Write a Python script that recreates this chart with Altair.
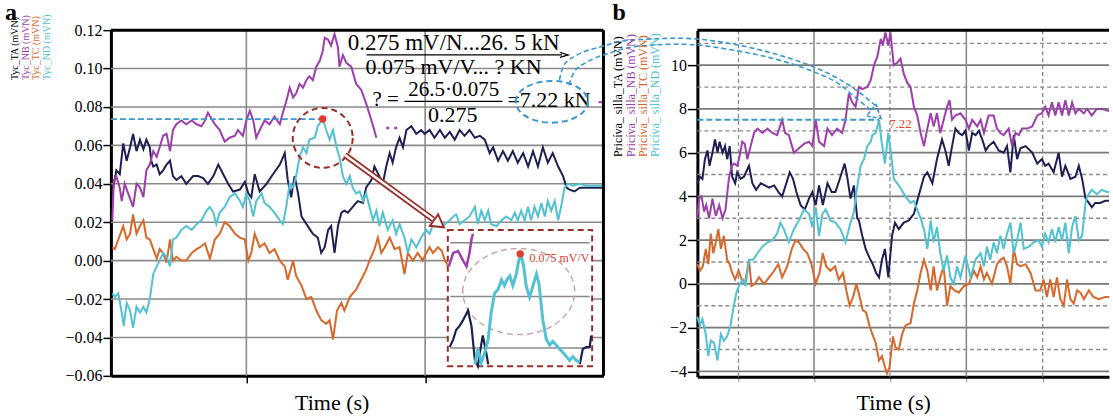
import altair as alt
import pandas as pd

FONT = "Liberation Serif"
NAVY = "#1e2052"
PURPLE = "#9d3fab"
ORANGE = "#d8672a"
CYAN = "#52c2d2"
GRID = "#8a8a8a"
DARKRED = "#9a2e2a"
RED = "#e63a2e"
BLUE = "#3a97cf"
PINK = "#c9a6ae"

# ---------------- panel a : Tyc (mV/N) ----------------
A_XTICKS = [27.5, 63.8]
A_YTICKS = [-0.06, -0.04, -0.02, 0.0, 0.02, 0.04, 0.06, 0.08, 0.10, 0.12]
A_HGRID = [-0.04, -0.02, 0.0, 0.02, 0.04, 0.06, 0.08, 0.10]

A_TA = [(0.5, 0.038), (1.1, 0.047), (1.8, 0.045), (2.5, 0.061), (3.2, 0.052), (3.9, 0.059), (4.5, 0.066),
        (5.2, 0.057), (5.9, 0.063), (6.6, 0.058), (7.2, 0.063), (7.9, 0.059), (8.2, 0.052), (8.6, 0.049),
        (9.3, 0.050), (9.9, 0.045), (10.6, 0.047), (11.3, 0.050), (12.0, 0.052), (12.6, 0.044), (13.3, 0.042),
        (14.3, 0.044), (15.3, 0.040), (16.7, 0.044), (17.7, 0.044), (18.7, 0.043), (19.7, 0.040), (20.8, 0.044),
        (21.8, 0.050), (22.8, 0.045), (23.8, 0.040), (24.8, 0.036), (26.2, 0.037), (27.2, 0.041), (27.9, 0.035),
        (28.5, 0.033), (29.2, 0.045), (30.2, 0.036), (31.6, 0.040), (32.9, 0.045), (34.3, 0.050), (35.3, 0.056),
        (35.9, 0.042), (36.6, 0.033), (37.3, 0.044), (38.0, 0.035), (38.7, 0.023), (39.7, 0.019), (41.0, 0.014),
        (42.0, 0.012), (42.7, 0.004), (43.4, 0.007), (44.1, 0.016), (44.7, 0.018), (45.4, 0.004), (46.1, 0.018),
        (46.8, 0.025), (47.4, 0.026), (48.1, 0.025), (49.1, 0.028), (50.1, 0.031), (51.2, 0.030), (51.8, 0.038),
        (52.9, 0.042), (53.5, 0.049), (54.5, 0.044), (55.2, 0.040), (55.9, 0.049), (56.6, 0.056), (57.2, 0.051),
        (57.9, 0.059), (58.6, 0.064), (59.3, 0.059), (60.0, 0.068), (61.0, 0.070), (62.0, 0.066), (63.0, 0.068),
        (63.7, 0.066), (64.7, 0.068), (65.7, 0.064), (66.8, 0.068), (67.8, 0.064), (68.8, 0.067), (69.8, 0.063),
        (70.8, 0.068), (71.8, 0.065), (72.8, 0.068), (73.9, 0.064), (74.9, 0.065), (75.9, 0.063), (76.9, 0.056),
        (77.6, 0.059), (78.6, 0.052), (79.6, 0.057), (80.6, 0.052), (81.6, 0.057), (82.6, 0.051), (83.7, 0.056),
        (84.7, 0.049), (85.7, 0.057), (86.7, 0.049), (87.7, 0.059), (88.7, 0.051), (89.7, 0.056), (90.8, 0.049),
        (91.8, 0.044), (92.5, 0.038), (93.1, 0.037), (94.1, 0.036), (95.2, 0.038), (96.5, 0.038), (98.5, 0.038),
        (100.0, 0.038)]

A_NB = [(0.3, 0.021), (0.6, 0.042), (1.1, 0.044), (1.8, 0.038), (2.2, 0.031), (2.8, 0.040), (3.5, 0.035),
        (4.5, 0.028), (5.2, 0.040), (5.9, 0.038), (6.6, 0.033), (7.2, 0.047), (7.9, 0.050), (8.6, 0.057),
        (9.3, 0.054), (9.9, 0.059), (10.6, 0.065), (11.3, 0.066), (12.0, 0.057), (12.6, 0.068), (13.3, 0.071),
        (14.3, 0.073), (15.3, 0.071), (16.4, 0.073), (17.4, 0.071), (18.4, 0.070), (19.1, 0.073), (19.7, 0.077),
        (20.4, 0.074), (21.1, 0.071), (22.1, 0.068), (23.1, 0.062), (24.1, 0.064), (25.2, 0.065), (25.8, 0.068),
        (26.8, 0.065), (27.5, 0.073), (28.2, 0.078), (28.9, 0.073), (29.5, 0.064), (30.6, 0.070), (31.2, 0.073),
        (32.2, 0.071), (33.2, 0.075), (34.3, 0.071), (34.9, 0.077), (35.6, 0.083), (36.3, 0.090), (37.0, 0.085),
        (37.6, 0.087), (38.3, 0.092), (39.0, 0.090), (39.7, 0.094), (40.3, 0.096), (41.0, 0.094), (41.7, 0.101),
        (42.4, 0.104), (43.0, 0.109), (43.4, 0.116), (44.1, 0.115), (44.7, 0.112), (45.4, 0.118), (46.1, 0.111),
        (46.4, 0.101), (47.1, 0.107), (47.8, 0.103), (48.8, 0.101), (49.8, 0.092), (50.8, 0.089), (51.8, 0.082),
        (52.9, 0.073), (53.9, 0.064)]
A_NB_DOTS = [(55.9, 0.069), (58.6, 0.069)]
A_NB_TAIL = [(99.0, 0.0825), (100.0, 0.0825)]

A_TC = [(0.3, 0.007), (0.8, 0.006), (1.5, 0.011), (2.5, 0.018), (3.2, 0.011), (3.9, 0.014), (4.5, 0.024),
        (5.2, 0.014), (5.9, 0.018), (6.6, 0.021), (7.2, 0.012), (7.9, 0.011), (8.6, 0.006), (9.3, 0.001),
        (9.9, 0.006), (10.6, 0.004), (11.3, -0.001), (12.0, 0.011), (12.6, 0.000), (13.3, 0.002), (14.3, 0.000),
        (15.3, 0.000), (16.4, 0.004), (17.4, 0.006), (18.1, 0.007), (19.1, 0.009), (20.1, 0.001), (21.1, 0.011),
        (22.1, 0.014), (23.1, 0.020), (24.1, 0.018), (25.2, 0.014), (26.2, 0.012), (27.2, 0.011), (27.9, 0.000),
        (28.5, 0.004), (29.2, 0.014), (30.2, 0.007), (31.2, 0.009), (32.2, 0.004), (33.2, 0.006), (34.3, 0.000),
        (35.3, -0.003), (35.9, -0.010), (37.0, 0.000), (37.6, -0.008), (38.7, -0.013), (39.7, -0.020),
        (40.7, -0.019), (41.7, -0.026), (42.7, -0.031), (43.7, -0.033), (44.4, -0.031), (45.1, -0.041),
        (45.9, -0.026), (46.8, -0.022), (47.4, -0.026), (48.5, -0.019), (49.8, -0.015), (50.8, -0.010),
        (51.8, -0.005), (52.5, 0.000), (53.5, 0.006), (54.2, 0.012), (54.9, 0.004), (55.6, 0.007), (56.6, 0.012),
        (57.6, 0.006), (58.6, 0.007), (59.6, -0.007), (60.3, 0.004), (61.3, 0.000), (62.3, 0.004), (63.3, 0.000),
        (64.0, 0.004), (64.7, 0.007), (65.4, 0.004), (66.4, 0.007), (67.2, 0.005), (67.8, 0.000), (68.8, -0.004)]

A_ND = [(0.3, -0.017), (0.8, -0.019), (1.5, -0.017), (2.2, -0.027), (2.6, -0.034), (3.2, -0.022), (3.9, -0.026),
        (4.5, -0.035), (5.2, -0.024), (5.9, -0.027), (6.6, -0.024), (7.2, -0.027), (7.9, -0.020), (8.6, -0.007),
        (9.3, -0.003), (9.9, 0.000), (10.6, 0.004), (11.3, 0.002), (12.0, -0.003), (12.6, 0.011), (13.3, 0.012),
        (14.3, 0.016), (15.3, 0.018), (16.4, 0.016), (17.4, 0.019), (18.4, 0.021), (19.4, 0.026), (20.1, 0.028),
        (20.8, 0.025), (21.4, 0.019), (22.1, 0.025), (23.1, 0.028), (24.1, 0.033), (25.2, 0.035), (26.2, 0.031),
        (26.8, 0.028), (27.5, 0.035), (28.2, 0.031), (28.9, 0.023), (29.5, 0.031), (30.6, 0.035), (31.2, 0.030),
        (32.2, 0.028), (33.2, 0.025), (34.3, 0.021), (34.9, 0.019), (35.6, 0.028), (36.3, 0.040), (37.0, 0.038),
        (37.6, 0.044), (38.3, 0.054), (39.0, 0.059), (39.7, 0.056), (40.3, 0.063), (41.4, 0.064), (42.0, 0.070),
        (43.0, 0.074), (43.7, 0.068), (44.4, 0.063), (45.1, 0.068), (45.8, 0.059), (46.4, 0.054), (47.1, 0.044),
        (47.8, 0.040), (48.5, 0.044), (49.1, 0.038), (49.8, 0.035), (50.5, 0.036), (51.2, 0.031), (51.8, 0.035),
        (52.5, 0.028), (53.2, 0.021), (53.9, 0.026), (54.5, 0.018), (55.2, 0.025), (56.2, 0.016), (57.2, 0.021),
        (57.9, 0.014), (58.6, 0.019), (59.6, 0.012), (60.3, 0.004), (61.0, 0.011), (62.0, 0.007), (63.0, 0.012),
        (64.0, 0.016), (64.7, 0.014), (65.7, 0.021), (66.8, 0.018), (67.8, 0.019), (68.8, 0.021), (69.5, 0.023),
        (70.1, 0.024), (70.8, 0.019), (71.8, 0.021), (72.8, 0.023), (73.9, 0.028), (74.5, 0.019), (75.2, 0.026),
        (75.9, 0.021), (76.6, 0.026), (77.2, 0.019), (78.3, 0.018), (79.3, 0.021), (80.3, 0.023), (81.3, 0.021),
        (82.0, 0.025), (82.6, 0.021), (83.3, 0.026), (84.0, 0.021), (84.7, 0.028), (85.3, 0.021), (86.0, 0.028),
        (86.7, 0.023), (87.4, 0.030), (88.1, 0.023), (88.7, 0.031), (89.4, 0.026), (90.1, 0.031), (90.8, 0.021),
        (91.4, 0.028), (92.1, 0.038), (92.8, 0.040), (93.8, 0.039), (95.2, 0.040), (96.5, 0.039), (98.5, 0.039),
        (100.0, 0.039)]

# magnified inset (drawn in panel a's own units)
INSET_BOX = [(68.4, 97.7, -0.055, 0.016)]
INSET_LINES = [0.0093, -0.0187, -0.0455]
INSET_ND = [(73.9, -0.054), (74.5, -0.046), (75.2, -0.053), (75.9, -0.048), (76.6, -0.041), (77.2, -0.027),
            (77.9, -0.017), (78.6, -0.015), (79.3, -0.010), (79.9, -0.013), (80.4, -0.010), (81.0, -0.008),
            (81.6, -0.013), (82.3, -0.007), (82.8, 0.000), (83.3, 0.003), (83.8, -0.003), (84.3, -0.013),
            (85.0, -0.019), (85.7, -0.013), (86.4, -0.007), (86.9, -0.012), (87.7, -0.031), (88.4, -0.041),
            (89.1, -0.044), (89.7, -0.042), (90.4, -0.044), (91.1, -0.046), (91.8, -0.048), (92.5, -0.050),
            (93.1, -0.052), (93.8, -0.050), (94.5, -0.052), (95.2, -0.053)]
INSET_TA_L = [(68.8, -0.045), (69.5, -0.041), (70.1, -0.036), (70.8, -0.034), (71.5, -0.031), (72.5, -0.026),
              (73.2, -0.034), (73.9, -0.052), (74.5, -0.055), (74.9, -0.048), (75.5, -0.039), (76.2, -0.048),
              (76.6, -0.054)]
INSET_TA_R = [(95.2, -0.054), (95.8, -0.046), (96.5, -0.045), (97.2, -0.045), (97.5, -0.039)]
INSET_NB = [(68.6, -0.003), (69.5, 0.004), (70.5, 0.005), (71.5, 0.000), (72.2, -0.003), (72.8, 0.004),
            (73.2, 0.011), (73.5, 0.014)]

A_PEAK = [(43.0, 0.0737)]
A_INSET_PEAK = [(83.1, 0.0035)]
A_REF_LINE = [(0.0, 43.0, 0.0737)]
A_ARROW = [(47.5, 0.055), (65.4, 0.0215)]
A_ARROW_HEAD = [(66.6, 0.0192)]
A_CIRCLE = [(43.0, 0.0639)]
A_INSET_CIRCLE = [(82.8, -0.0161)]
A_ELLIPSE = [(89.5, 0.0827)]

EQ_LINE1 = ("0.275 mV/N...26. 5 kN", 48.1, 0.1134)
EQ_LINE2 = ("0.075 mV/V... ? KN", 51.7, 0.1010)
EQ_Q = ("? =", 55.8, 0.0836)
EQ_NUM = ("26.5\u00b70.075", 69.6, 0.0889)
EQ_DEN = ("0.275", 69.4, 0.0757)
EQ_RES = ("=7.22 kN", 80.5, 0.0836)
EQ_BARS = [(51.9, 91.6, 0.1071), (59.6, 79.5, 0.0829)]
EQ_ARROW = [(92.0, 0.1071)]
INSET_LABEL = ("0.075 mV/V", 85.0, 0.0012)

A_TITLES = [("Tyc_TA (mVN)", "black", -95.5), ("Tyc_NB (mVN)", PURPLE, -85),
            ("Tyc_TC (mVN)", ORANGE, -74.5), ("Tyc_ND (mVN)", CYAN, -64)]

# ---------------- panel b : Pricíva_silla ----------------
B_XMAJOR = [27.8, 64.1]
B_XMINOR = [9.8, 45.9, 82.3]
B_YTICKS = [-4, -2, 0, 2, 4, 6, 8, 10]
B_YMINOR = [-3, -1, 1, 3, 5, 7, 9, 11]

B_TA = [(0, 4.6), (0.6, 4.9), (1.2, 4.8), (1.8, 5.7), (2.4, 6.1), (2.9, 5.4), (3.6, 6.0), (4.2, 6.6), (4.8, 6.0),
        (5.3, 6.5), (6.0, 6.0), (6.6, 6.3), (7.1, 5.7), (7.7, 6.3), (8.3, 4.9), (9.0, 4.6), (9.5, 5.1), (10.3, 4.8),
        (11.1, 4.9), (12.3, 5.4), (13.1, 4.6), (14.0, 4.3), (15.1, 4.6), (16.1, 4.5), (17.1, 4.4), (18.3, 4.5),
        (19.3, 4.2), (20.2, 4.0), (21.2, 4.6), (22.0, 5.1), (22.8, 4.8), (23.6, 4.2), (24.6, 3.6), (25.6, 3.4),
        (26.6, 3.9), (27.4, 4.2), (28.2, 3.6), (29.0, 4.5), (29.9, 3.6), (31.0, 4.6), (32.0, 4.2), (32.9, 4.2),
        (34.1, 4.9), (35.1, 5.5), (35.7, 4.9), (36.5, 3.9), (37.3, 4.5), (38.1, 3.0), (38.5, 2.9), (39.3, 2.2),
        (40.1, 1.6), (41.0, 1.2), (41.8, 0.9), (42.6, 0.5), (43.3, 0.3), (44.0, 1.1), (44.7, 1.6), (45.5, 0.3),
        (46.4, 2.2), (47.1, 2.8), (48.0, 2.5), (49.2, 2.8), (50.4, 2.9), (51.6, 3.2), (52.4, 3.8), (54.0, 4.9),
        (54.8, 5.1), (56.0, 4.6), (57.1, 5.7), (58.3, 6.6), (59.1, 6.1), (59.9, 5.4), (60.7, 6.3), (61.5, 7.1),
        (62.3, 6.9), (63.1, 6.8), (63.9, 7.0), (64.7, 6.1), (65.5, 6.9), (66.3, 6.8), (67.1, 7.0), (67.9, 6.6),
        (68.7, 6.1), (69.4, 6.3), (70.6, 6.5), (71.8, 6.1), (73.0, 6.0), (73.8, 6.3), (74.6, 5.1), (75.4, 6.8),
        (76.2, 5.7), (77.0, 6.2), (78.2, 6.3), (79.8, 6.0), (81.0, 5.5), (82.1, 5.7), (82.9, 5.4), (83.7, 5.5),
        (84.9, 5.1), (86.1, 6.0), (86.9, 4.9), (87.7, 5.4), (88.9, 4.8), (90.1, 4.9), (90.9, 5.4), (91.7, 4.8),
        (92.5, 3.9), (93.3, 3.7), (94.0, 3.5), (94.8, 3.7), (96.0, 3.7), (97.2, 3.8), (98.1, 3.8)]

B_NB = [(0, 3.0), (0.4, 3.9), (1.0, 4.0), (1.6, 3.3), (2.1, 3.6), (2.8, 3.0), (3.6, 3.9), (4.4, 3.1), (5.2, 3.6),
        (6.0, 3.0), (6.7, 3.4), (7.5, 4.8), (8.2, 5.4), (8.7, 5.5), (9.5, 5.4), (9.9, 5.7), (10.7, 6.5), (11.3, 6.4),
        (11.9, 5.7), (12.7, 6.3), (13.5, 6.9), (14.3, 7.1), (15.5, 6.9), (16.7, 7.1), (17.9, 6.9), (19.0, 6.8),
        (20.2, 7.5), (20.9, 6.9), (21.8, 6.8), (23.0, 6.0), (24.2, 6.2), (25.4, 6.4), (26.6, 6.5), (27.4, 6.3),
        (28.2, 7.5), (29.0, 6.5), (30.2, 6.3), (31.0, 7.1), (32.1, 6.8), (33.3, 7.1), (34.5, 6.9), (35.3, 7.5),
        (36.1, 8.7), (36.9, 8.3), (37.7, 8.1), (38.5, 9.0), (39.3, 8.9), (40.5, 9.0), (41.3, 9.3), (42.1, 10.0),
        (42.9, 10.4), (43.7, 11.2), (44.2, 10.9), (44.8, 11.5), (45.5, 10.9), (46.0, 11.5), (46.8, 10.0),
        (47.6, 10.1), (48.4, 10.3), (49.2, 9.6), (50.0, 9.2), (50.8, 9.0), (51.6, 8.1), (52.4, 7.7), (53.2, 6.9),
        (54.0, 6.3), (54.8, 7.1), (55.6, 7.8), (56.3, 7.2), (57.1, 7.8), (57.9, 6.9), (58.7, 7.5), (59.5, 8.1),
        (60.1, 8.4), (60.7, 7.5), (61.5, 7.7), (62.7, 7.8), (63.9, 7.5), (64.7, 7.1), (65.5, 7.5), (66.7, 7.2),
        (67.5, 7.5), (68.3, 6.9), (69.4, 7.7), (70.6, 7.7), (71.4, 7.1), (72.2, 6.9), (73.0, 6.8), (74.2, 7.1),
        (75.0, 6.3), (75.8, 6.9), (76.6, 6.8), (77.4, 7.1), (78.6, 7.1), (79.8, 7.2), (81.0, 7.7), (82.1, 7.8),
        (82.9, 8.1), (83.7, 7.7), (84.5, 8.3), (85.3, 7.7), (86.1, 8.3), (86.9, 7.7), (87.7, 8.4), (88.5, 7.7),
        (89.3, 8.3), (90.1, 7.8), (90.9, 8.0), (92.1, 7.8), (92.9, 8.0), (94.0, 7.7), (95.2, 8.0), (96.4, 8.0),
        (98.1, 7.9)]

B_TC = [(0, 0.9), (0.6, 0.6), (1.3, 0.8), (2.0, 1.6), (2.6, 0.9), (3.2, 2.3), (3.8, 1.4), (4.5, 2.0), (5.0, 2.5),
        (5.6, 1.6), (6.3, 2.2), (7.1, 1.1), (7.7, 0.9), (8.3, 0.5), (9.0, 0.2), (9.8, 0.6), (10.6, 0.2), (11.3, 0.0),
        (12.3, 1.1), (12.9, -0.1), (13.7, 0.0), (14.7, 0.3), (15.9, 0.0), (17.1, 0.3), (18.3, 0.6), (19.3, 0.9),
        (20.2, 0.3), (21.4, 0.8), (22.5, 1.6), (23.4, 2.0), (24.2, 1.9), (25.2, 1.6), (26.2, 1.4), (27.2, 0.9),
        (28.2, 0.0), (29.1, 0.5), (29.9, 1.4), (30.7, 0.8), (31.7, 0.6), (32.8, 0.8), (33.7, 0.2), (34.7, 0.5),
        (35.5, -0.3), (36.3, -1.0), (37.1, -0.6), (37.9, 0.0), (38.7, -0.6), (39.4, -1.2), (40.2, -1.3),
        (41.0, -1.9), (41.7, -2.3), (42.5, -2.7), (43.3, -3.5), (44.0, -3.3), (44.7, -3.8), (45.2, -4.1),
        (45.8, -3.8), (46.6, -2.4), (47.2, -2.9), (48.0, -3.0), (48.8, -2.3), (49.6, -1.9), (50.8, -1.8),
        (51.6, -0.9), (52.4, -0.3), (53.2, 0.5), (54.0, 1.1), (54.8, 0.6), (55.6, -0.3), (56.3, 0.8), (57.1, -0.3),
        (57.9, 0.3), (58.7, 0.8), (59.5, -1.0), (60.3, -0.1), (61.3, -0.3), (62.3, -0.4), (63.5, -0.1), (64.7, 0.0),
        (65.9, 0.6), (66.7, 0.3), (67.5, 0.8), (68.3, 0.2), (69.0, 0.5), (70.2, 0.0), (71.4, 0.9), (72.2, 1.1),
        (73.0, 1.2), (73.8, 0.8), (74.6, 0.0), (75.4, 1.6), (76.2, 0.9), (77.0, 0.8), (78.2, 0.9), (79.4, 0.5),
        (80.6, -0.3), (81.7, -0.3), (82.5, 0.2), (83.3, -0.6), (84.1, 0.2), (84.9, -0.6), (85.7, 0.3), (86.5, -0.7),
        (87.3, -1.0), (88.1, 0.2), (88.9, -0.7), (89.7, -0.9), (90.5, -0.3), (91.3, -0.4), (92.1, -0.7),
        (93.3, -0.3), (94.4, -0.6), (95.6, -0.7), (97.2, -0.6), (98.1, -0.6)]

B_ND = [(0, -1.5), (0.6, -1.9), (1.2, -1.6), (2.0, -2.3), (2.6, -3.3), (3.2, -2.6), (4.0, -2.7), (4.8, -3.5),
        (5.6, -2.3), (6.3, -2.6), (7.1, -2.4), (7.9, -1.9), (8.5, -1.2), (9.3, -0.4), (10.1, 0.0), (10.9, 0.2),
        (11.5, -0.1), (12.3, 1.1), (13.3, 1.1), (14.3, 1.4), (15.5, 1.7), (16.7, 1.9), (17.9, 2.0), (19.0, 2.3),
        (19.8, 2.8), (20.6, 2.5), (21.8, 1.9), (23.0, 2.5), (24.2, 2.9), (25.4, 3.4), (26.6, 3.2), (27.4, 2.6),
        (28.2, 3.5), (29.0, 2.2), (29.8, 3.2), (30.6, 3.4), (31.7, 2.9), (32.9, 2.8), (34.1, 2.5), (35.3, 1.9),
        (36.5, 2.8), (37.3, 3.3), (37.9, 4.2), (38.9, 5.4), (39.7, 5.7), (40.5, 6.3), (41.3, 6.5), (41.7, 6.8),
        (42.5, 6.9), (43.3, 7.5), (43.9, 6.5), (44.7, 5.5), (45.5, 6.9), (46.3, 5.7), (46.8, 4.8), (48.0, 4.5),
        (49.6, 4.0), (50.8, 3.7), (51.6, 3.8), (52.4, 3.4), (53.2, 3.0), (54.0, 2.5), (54.8, 1.6), (55.6, 2.9),
        (56.3, 1.9), (57.1, 2.6), (57.9, 1.4), (58.7, 0.6), (59.5, 1.3), (60.3, 0.3), (61.1, 0.0), (61.9, 0.8),
        (62.7, 0.3), (63.9, 1.3), (65.1, 0.3), (66.3, 1.1), (67.5, 1.4), (68.3, 0.8), (69.0, 1.7), (69.8, 1.1),
        (70.6, 1.9), (71.4, 1.4), (72.2, 2.2), (73.0, 1.6), (73.8, 2.3), (74.6, 2.8), (75.4, 1.4), (76.2, 2.0),
        (77.0, 2.8), (77.8, 1.6), (79.0, 1.7), (80.2, 1.9), (81.3, 2.0), (82.1, 1.7), (82.9, 2.3), (83.7, 1.9),
        (84.5, 2.5), (85.3, 1.9), (86.1, 2.6), (86.9, 2.0), (87.7, 2.8), (88.5, 1.4), (89.3, 2.6), (90.1, 3.1),
        (90.9, 2.0), (91.7, 2.2), (92.5, 3.7), (92.9, 4.0), (94.0, 4.3), (95.2, 4.1), (96.4, 4.3), (97.6, 4.2),
        (98.1, 4.2)]

B_REF_LINE = [(0.0, 43.3, 7.5)]
B_CURVE_OUTER = [(-32.9, 9.32), (-31.8, 10.0), (-28.7, 10.46), (-23.4, 10.82), (-16.3, 11.14), (-4.4, 11.23),
                 (9.9, 10.91), (19.5, 10.46), (27.3, 9.95), (33.8, 9.36), (38.5, 8.77), (42.6, 8.13)]
B_CURVE_INNER = [(-30.6, 9.09), (-29.4, 9.68), (-26.3, 10.14), (-21.0, 10.55), (-13.9, 10.87), (-4.4, 10.96),
                 (9.9, 10.64), (19.5, 10.23), (27.3, 9.73), (33.8, 9.13), (37.3, 8.58), (41.3, 7.95)]
B_CURVE_HEAD = [(42.6, 7.75)]
B_LABEL = ("7.22", 45.7, 7.31)

B_TITLES = [("Pric\u00edva_ silla_TA (mVN)", "black", -79), ("Pric\u00edva_ silla_NB (mVN)", PURPLE, -66.5),
            ("Pric\u00edva_ silla_TC (mVN)", ORANGE, -54.5), ("Pric\u00edva_ silla_ND (mVN)", CYAN, -42.5)]


def pts(pairs):
    return pd.DataFrame(pairs, columns=["t", "v"])


def ellipse_path(ratio):
    k = 0.5523
    r = ratio
    return (f"M -1 0 C -1 {-k*r:.3f} {-k:.3f} {-r:.3f} 0 {-r:.3f} C {k:.3f} {-r:.3f} 1 {-k*r:.3f} 1 0 "
            f"C 1 {k*r:.3f} {k:.3f} {r:.3f} 0 {r:.3f} C {-k:.3f} {r:.3f} -1 {k*r:.3f} -1 0 Z")


ONE = pd.DataFrame({"k": [0]})

# ---------------- build panel a ----------------
XA = alt.X("t:Q", scale=alt.Scale(domain=[0, 100], nice=False, zero=False),
           axis=alt.Axis(values=A_XTICKS, labels=False, grid=False, tickSize=7, tickColor="black", tickWidth=1.5,
                         domainColor="black", domainWidth=3, title="Time (s)", titleFont=FONT, titleFontSize=22,
                         titleFontWeight="normal", titleColor="black", titleX=221, titleY=34,
                         titleAlign="center", titleBaseline="alphabetic"))
YA = alt.Y("v:Q", scale=alt.Scale(domain=[-0.06, 0.12], nice=False, zero=False),
           axis=alt.Axis(values=A_YTICKS, format=".2f", labelFont=FONT, labelFontSize=16, labelColor="black",
                         labelPadding=1, tickSize=8, tickColor="black", tickWidth=1.5, domainColor="black",
                         domainWidth=3, grid=False, title=None))
X2 = alt.X2("t2:Q")
Y2 = alt.Y2("v2:Q")

la = []
la.append(alt.Chart(pd.DataFrame({"v": A_HGRID, "t": 0.0, "t2": 100.0})).mark_rule(color=GRID, strokeWidth=1.6)
          .encode(x=XA, x2=X2, y=YA))
la.append(alt.Chart(pd.DataFrame({"t": A_XTICKS, "v": -0.06, "v2": 0.12})).mark_rule(color=GRID, strokeWidth=1.6)
          .encode(x=XA, y=YA, y2=Y2))
for data, col in [(A_TA, NAVY), (A_NB, PURPLE), (A_TC, ORANGE), (A_ND, CYAN)]:
    la.append(alt.Chart(pts(data)).mark_line(color=col, strokeWidth=2).encode(x=XA, y=YA))
la.append(alt.Chart(pts(A_NB_DOTS)).mark_line(color=PURPLE, strokeWidth=2.5, strokeDash=[3, 5]).encode(x=XA, y=YA))
la.append(alt.Chart(pts(A_NB_TAIL)).mark_line(color=PURPLE, strokeWidth=2).encode(x=XA, y=YA))
# reference dashed line, circle and peak dot
la.append(alt.Chart(pd.DataFrame(A_REF_LINE, columns=["t", "t2", "v"])).mark_rule(color=BLUE, strokeWidth=1.6, strokeDash=[6, 3])
          .encode(x=XA, x2=X2, y=YA))
la.append(alt.Chart(pts(A_CIRCLE)).mark_point(shape="circle", size=3600, filled=False, stroke=DARKRED, strokeWidth=2,
                                              strokeDash=[6, 4], opacity=1).encode(x=XA, y=YA))
la.append(alt.Chart(pts(A_PEAK)).mark_point(shape="circle", size=55, filled=True, color=RED, opacity=1).encode(x=XA, y=YA))
# double arrow
la.append(alt.Chart(pts(A_ARROW)).mark_line(color=DARKRED, strokeWidth=6).encode(x=XA, y=YA))
la.append(alt.Chart(pts(A_ARROW)).mark_line(color="white", strokeWidth=2.5).encode(x=XA, y=YA))
la.append(alt.Chart(pts(A_ARROW_HEAD)).mark_point(shape="triangle-right", angle=36, size=200, filled=True, fill="white",
                                                  stroke=DARKRED, strokeWidth=2, opacity=1).encode(x=XA, y=YA))
# inset
la.append(alt.Chart(pd.DataFrame(INSET_BOX, columns=["t", "t2", "v", "v2"])).mark_rect(
    fill="white", stroke=DARKRED, strokeWidth=2, strokeDash=[6, 4]).encode(x=XA, x2=X2, y=YA, y2=Y2))
la.append(alt.Chart(pd.DataFrame({"v": INSET_LINES, "t": 68.9, "t2": 97.2})).mark_rule(color=GRID, strokeWidth=1.6)
          .encode(x=XA, x2=X2, y=YA))
la.append(alt.Chart(pts(A_INSET_CIRCLE)).mark_point(shape=ellipse_path(0.77), size=12544, filled=False, stroke=PINK,
                                                    strokeWidth=1.5, strokeDash=[6, 4], opacity=1).encode(x=XA, y=YA))
la.append(alt.Chart(pts(INSET_NB)).mark_line(color=PURPLE, strokeWidth=2.5).encode(x=XA, y=YA))
la.append(alt.Chart(pts(INSET_TA_L)).mark_line(color=NAVY, strokeWidth=2.2).encode(x=XA, y=YA))
la.append(alt.Chart(pts(INSET_TA_R)).mark_line(color=NAVY, strokeWidth=2.2).encode(x=XA, y=YA))
la.append(alt.Chart(pts(INSET_ND)).mark_line(color=CYAN, strokeWidth=3).encode(x=XA, y=YA))
la.append(alt.Chart(pts(A_INSET_PEAK)).mark_point(shape="circle", size=55, filled=True, color=RED, opacity=1).encode(x=XA, y=YA))
la.append(alt.Chart(pd.DataFrame([INSET_LABEL], columns=["s", "t", "v"])).mark_text(
    font=FONT, fontSize=12, color=RED, align="left", baseline="middle").encode(x=XA, y=YA, text="s:N"))
# equation
for (txt, t, v), al, fs in [(EQ_LINE1, "left", 23), (EQ_LINE2, "left", 22), (EQ_Q, "center", 21),
                            (EQ_NUM, "center", 21), (EQ_DEN, "center", 22), (EQ_RES, "left", 22)]:
    la.append(alt.Chart(pd.DataFrame([(txt, t, v)], columns=["s", "t", "v"])).mark_text(
        font=FONT, fontSize=fs, color="black", align=al, baseline="middle").encode(x=XA, y=YA, text="s:N"))
la.append(alt.Chart(pd.DataFrame(EQ_BARS, columns=["t", "t2", "v"])).mark_rule(color="black", strokeWidth=1.2)
          .encode(x=XA, x2=X2, y=YA))
la.append(alt.Chart(pts(EQ_ARROW)).mark_point(shape="M -1 -0.6 L 1 0 L -1 0.6", size=70, filled=False, stroke="black",
                                              strokeWidth=1.2, opacity=1).encode(x=XA, y=YA))
la.append(alt.Chart(pts(A_ELLIPSE)).mark_point(shape=ellipse_path(0.58), size=5184, filled=False, stroke=BLUE,
                                               strokeWidth=2, strokeDash=[6, 4], opacity=1).encode(x=XA, y=YA))
# frame
la.append(alt.Chart(pd.DataFrame({"t": [0.0], "t2": [100.0], "v": [0.12]})).mark_rule(color="black", strokeWidth=3)
          .encode(x=XA, x2=X2, y=YA))
la.append(alt.Chart(pd.DataFrame({"t": [100.0], "v": [-0.06], "v2": [0.12]})).mark_rule(color="black", strokeWidth=3)
          .encode(x=XA, y=YA, y2=Y2))
# labels
la.append(alt.Chart(ONE).mark_text(text="a", font=FONT, fontSize=24, fontWeight="bold", align="left",
                                   baseline="alphabetic", color="black").encode(x=alt.value(-106), y=alt.value(-10)))
for txt, col, xx in A_TITLES:
    la.append(alt.Chart(ONE).mark_text(text=txt, font=FONT, fontSize=10, angle=270, align="left", baseline="middle",
                                       color=col).encode(x=alt.value(xx), y=alt.value(50)))

panel_a = alt.layer(*la).properties(width=493, height=346)

# ---------------- build panel b ----------------
XB = alt.X("t:Q", scale=alt.Scale(domain=[0, 98.1], nice=False, zero=False),
           axis=alt.Axis(values=sorted(B_XMAJOR + B_XMINOR), labels=False, grid=False, tickSize=5, tickColor="#a0a0a0",
                         tickWidth=1.2, domainColor="black", domainWidth=3, title="Time (s)", titleFont=FONT,
                         titleFontSize=22, titleFontWeight="normal", titleColor="black", titleX=196, titleY=33,
                         titleAlign="center", titleBaseline="alphabetic"))
YB = alt.Y("v:Q", scale=alt.Scale(domain=[-4.25, 11.6], nice=False, zero=False),
           axis=alt.Axis(values=B_YTICKS, format="d", labelFont=FONT, labelFontSize=16, labelColor="black",
                         labelPadding=1, tickSize=10, tickColor="black", tickWidth=1.5, domainColor="black",
                         domainWidth=3, grid=False, title=None))

lb = []
lb.append(alt.Chart(pd.DataFrame({"v": B_YMINOR, "t": 0.0, "t2": 98.1})).mark_rule(color=GRID, strokeWidth=1.3, strokeDash=[4, 3])
          .encode(x=XB, x2=X2, y=YB))
lb.append(alt.Chart(pd.DataFrame({"t": B_XMINOR, "v": -4.25, "v2": 11.6})).mark_rule(color=GRID, strokeWidth=1.3, strokeDash=[4, 3])
          .encode(x=XB, y=YB, y2=Y2))
lb.append(alt.Chart(pd.DataFrame({"v": B_YTICKS, "t": 0.0, "t2": 98.1})).mark_rule(color="#7a7a7a", strokeWidth=1.8)
          .encode(x=XB, x2=X2, y=YB))
lb.append(alt.Chart(pd.DataFrame({"t": B_XMAJOR, "v": -4.25, "v2": 11.6})).mark_rule(color=GRID, strokeWidth=1.6)
          .encode(x=XB, y=YB, y2=Y2))
for data, col in [(B_TA, NAVY), (B_NB, PURPLE), (B_TC, ORANGE), (B_ND, CYAN)]:
    lb.append(alt.Chart(pts(data)).mark_line(color=col, strokeWidth=2).encode(x=XB, y=YB))
lb.append(alt.Chart(pd.DataFrame(B_REF_LINE, columns=["t", "t2", "v"])).mark_rule(color=BLUE, strokeWidth=2, strokeDash=[6, 3])
          .encode(x=XB, x2=X2, y=YB))
for curve in (B_CURVE_OUTER, B_CURVE_INNER):
    lb.append(alt.Chart(pts(curve)).mark_line(color=BLUE, strokeWidth=1.6, strokeDash=[5, 3], interpolate="monotone")
              .encode(x=XB, y=YB))
lb.append(alt.Chart(pts(B_CURVE_HEAD)).mark_point(shape="triangle-right", angle=40, size=220, filled=False, stroke=BLUE,
                                                  strokeWidth=1.6, strokeDash=[4, 2], opacity=1).encode(x=XB, y=YB))
lb.append(alt.Chart(pd.DataFrame([B_LABEL], columns=["s", "t", "v"])).mark_text(
    font=FONT, fontSize=13, color="#e8442a", align="left", baseline="middle").encode(x=XB, y=YB, text="s:N"))
lb.append(alt.Chart(pd.DataFrame({"t": [0.0], "t2": [98.1], "v": [11.6]})).mark_rule(color="black", strokeWidth=3)
          .encode(x=XB, x2=X2, y=YB))
lb.append(alt.Chart(ONE).mark_text(text="b", font=FONT, fontSize=24, fontWeight="bold", align="left",
                                   baseline="alphabetic", color="black").encode(x=alt.value(-85), y=alt.value(-10)))
for txt, col, xx in B_TITLES:
    lb.append(alt.Chart(ONE).mark_text(text=txt, font=FONT, fontSize=12, angle=270, align="left", baseline="middle",
                                       color=col).encode(x=alt.value(xx), y=alt.value(127)))

panel_b = alt.layer(*lb).properties(width=412, height=347)

chart = alt.hconcat(panel_a, panel_b, spacing=94, bounds="flush",
                    padding={"left": 5, "top": 1, "right": 0, "bottom": 0},
                    background="white").configure_view(stroke=None)

chart.save("out.html", embed_options={"renderer": "svg", "actions": False})
